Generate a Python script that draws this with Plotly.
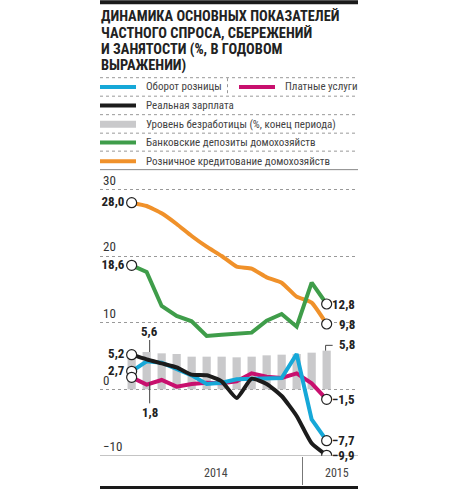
import plotly.graph_objects as go

months = ["01.2014", "02.2014", "03.2014", "04.2014", "05.2014", "06.2014", "07.2014",
          "08.2014", "09.2014", "10.2014", "11.2014", "12.2014", "01.2015", "02.2015"]
retail = [2.7, 4.2, 4.0, 3.0, 2.1, 0.8, 1.0, 1.5, 1.6, 1.7, 1.7, 5.3, -4.5, -7.7]
services = [1.8, 0.7, 1.4, 0.4, 0.8, 1.0, 0.9, 1.2, 2.4, 1.9, 1.7, 2.4, 0.9, -1.5]
wages = [5.2, 4.5, 3.9, 3.3, 2.2, 2.1, 1.2, -1.3, 1.6, 0.8, -1.0, -4.0, -8.1, -9.9]
unemployment = [5.6, 5.6, 5.4, 5.3, 4.9, 4.9, 4.9, 4.8, 4.9, 5.1, 5.2, 5.3, 5.5, 5.8]
deposits = [18.6, 17.6, 12.5, 11.0, 10.2, 8.0, 8.2, 8.3, 8.5, 10.3, 11.3, 9.4, 16.0, 12.8]
lending = [28.0, 27.5, 26.4, 24.8, 23.0, 21.4, 20.0, 18.4, 18.1, 16.8, 16.0, 13.9, 13.0, 9.8]
year_labels = ["2014", "2015"]
y_ticks = [-10, 0, 10, 20, 30]

title_lines = ["ДИНАМИКА ОСНОВНЫХ ПОКАЗАТЕЛЕЙ", "ЧАСТНОГО СПРОСА, СБЕРЕЖЕНИЙ",
               "И ЗАНЯТОСТИ (%, В ГОДОВОМ", "ВЫРАЖЕНИИ)"]

C_BLUE = "#16a8d8"
C_MAG = "#c8106e"
C_BLACK = "#1c1c1c"
C_GREY = "#c9c9cb"
C_GREEN = "#3f9d4a"
C_ORANGE = "#f0912a"
FONT = "Roboto Condensed, Roboto, sans-serif"

W, H = 460, 489
YR = [-10, 32.6]
L, R, B = 100, 358, 456
T = B - (YR[1] - YR[0]) * 6.67


def px(x):
    return (x - L) / (R - L)


def py(y):
    return (B - y) / (B - T)


def fmt(v):
    return ("%.1f" % v).replace(".", ",").replace("-", "−")


fig = go.Figure()
fig.add_trace(go.Bar(x=months, y=unemployment, marker_color=C_GREY, width=0.55,
                     marker_line_width=0, hoverinfo="skip"))
fig.add_trace(go.Scatter(x=months, y=lending, mode="lines",
                         line=dict(color=C_ORANGE, width=4, shape="spline", smoothing=0.4)))
fig.add_trace(go.Scatter(x=months, y=deposits, mode="lines",
                         line=dict(color=C_GREEN, width=4)))
fig.add_trace(go.Scatter(x=months, y=services, mode="lines",
                         line=dict(color=C_MAG, width=4)))
fig.add_trace(go.Scatter(x=months, y=retail, mode="lines",
                         line=dict(color=C_BLUE, width=4)))
fig.add_trace(go.Scatter(x=months, y=wages, mode="lines",
                         line=dict(color=C_BLACK, width=4, shape="spline", smoothing=0.5)))

lab_font = dict(family=FONT, size=13, color="#222")

# endpoint circles; left ones carry their value labels
left_series = (lending, deposits, wages, retail)
fig.add_trace(go.Scatter(
    x=[months[0]] * 4, y=[s[0] for s in left_series], mode="markers+text",
    text=["<b>" + fmt(s[0]) + "</b>" for s in left_series], textposition="middle left",
    textfont=lab_font,
    marker=dict(size=10, color="white", line=dict(color="#222", width=1.2))))
fig.add_trace(go.Scatter(
    x=[months[0], months[-1], months[-1], months[-1], months[-1], months[-1]],
    y=[services[0], lending[-1], deposits[-1], wages[-1], retail[-1], services[-1]],
    mode="markers",
    marker=dict(size=10, color="white", line=dict(color="#222", width=1.2))))

shapes = []
ann = []

# top & bottom thick rules
shapes.append(dict(type="line", xref="paper", yref="paper", x0=0, x1=1, y0=py(2), y1=py(2),
                   line=dict(color="#1a1a1a", width=4)))
shapes.append(dict(type="line", xref="paper", yref="paper", x0=0, x1=1, y0=py(487.5), y1=py(487.5),
                   line=dict(color="#1a1a1a", width=3)))

# title
for i, t in enumerate(title_lines):
    ann.append(dict(xref="paper", yref="paper", x=px(L - 1), y=py(16.5 + i * 16.3), xanchor="left",
                    yanchor="middle", text="<b>" + t + "</b>", showarrow=False,
                    font=dict(family=FONT, size=14.4, color="#222")))

# legend separators
for yy in (77.5, 96, 114.5, 133, 151):
    shapes.append(dict(type="line", xref="paper", yref="paper", x0=0, x1=1, y0=py(yy), y1=py(yy),
                       line=dict(color="#999", width=1, dash="dot")))
shapes.append(dict(type="line", xref="paper", yref="paper", x0=0, x1=1, y0=py(169.5), y1=py(169.5),
                   line=dict(color="#888", width=1)))
shapes.append(dict(type="line", xref="paper", yref="paper", x0=px(227.5), x1=px(227.5),
                   y0=py(78), y1=py(96), line=dict(color="#999", width=1, dash="dot")))

legend_items = [
    (100, 86.7, C_BLUE, "Оборот розницы", "line"),
    (239, 86.7, C_MAG, "Платные услуги", "line"),
    (100, 105.3, C_BLACK, "Реальная зарплата", "line"),
    (100, 124, C_GREY, "Уровень безработицы (%, конец периода)", "box"),
    (100, 142.3, C_GREEN, "Банковские депозиты домохозяйств", "line"),
    (100, 161, C_ORANGE, "Розничное кредитование домохозяйств", "line"),
]
for x0, yy, col, label, kind in legend_items:
    if kind == "line":
        shapes.append(dict(type="line", xref="paper", yref="paper", x0=px(x0), x1=px(x0 + 36),
                           y0=py(yy), y1=py(yy), line=dict(color=col, width=4)))
    else:
        shapes.append(dict(type="rect", xref="paper", yref="paper", x0=px(x0), x1=px(x0 + 36),
                           y0=py(yy - 3.5), y1=py(yy + 3.5), fillcolor=col, line=dict(width=0)))
    ann.append(dict(xref="paper", yref="paper", x=px(x0 + 44), y=py(yy), xanchor="left",
                    yanchor="middle", text=label, showarrow=False,
                    font=dict(family=FONT, size=11, color="#444")))

# bottom axis line
shapes.append(dict(type="line", xref="paper", yref="y", x0=0, x1=1, y0=-10, y1=-10,
                   line=dict(color="#888", width=1)))

# year labels & divider
shapes.append(dict(type="line", xref="paper", yref="paper", x0=px(302.5), x1=px(302.5),
                   y0=py(457), y1=py(485), line=dict(color="#777", width=1)))
ann.append(dict(xref="paper", yref="paper", x=px(216), y=py(473), xanchor="center",
                yanchor="middle", text=year_labels[0],
                showarrow=False, font=dict(family=FONT, size=12, color="#444")))
ann.append(dict(xref="paper", yref="paper", x=px(337), y=py(473), xanchor="center",
                yanchor="middle", text=year_labels[1],
                showarrow=False, font=dict(family=FONT, size=12, color="#444")))

# 1,8 below with leader
ann.append(dict(x=months[0], y=services[0], ax=0, ay=35, showarrow=True, arrowhead=0,
                arrowwidth=1, arrowcolor="#444", standoff=5,
                text="<b>" + fmt(services[0]) + "</b>", font=lab_font))
# 5,6 above bar with leader
ann.append(dict(x=months[0], y=unemployment[0], ax=0, ay=-21, showarrow=True, arrowhead=0,
                arrowwidth=1, arrowcolor="#444", standoff=0,
                text="<b>" + fmt(unemployment[0]) + "</b>", font=lab_font))

# right-side labels (right-aligned)
for s in (lending, deposits, wages, retail, services):
    ann.append(dict(xref="paper", yref="y", x=px(357), y=s[-1], xanchor="right",
                    yanchor="middle", text="<b>" + fmt(s[-1]) + "</b>", showarrow=False,
                    font=lab_font))
ann.append(dict(xref="paper", yref="y", x=px(357), y=unemployment[-1], xanchor="right",
                yanchor="middle", yshift=6, text="<b>" + fmt(unemployment[-1]) + "</b>",
                showarrow=False, font=lab_font))
n = len(months) - 1
shapes.append(dict(type="path", xref="x", yref="y",
                   path="M %f,%f L %f,%f L %f,%f" % (n - 0.07, unemployment[-1], n - 0.07,
                                                     unemployment[-1] + 0.8, n + 0.4,
                                                     unemployment[-1] + 0.8),
                   line=dict(color="#444", width=1)))

fig.update_layout(
    width=W, height=H, autosize=False,
    margin=dict(l=L, r=W - R, t=T, b=H - B, pad=0),
    paper_bgcolor="white", plot_bgcolor="white",
    showlegend=False,
    xaxis=dict(type="category", range=[-2.11, 15.09], showgrid=False, showticklabels=False,
               zeroline=False, showline=False, ticks=""),
    yaxis=dict(range=YR, tickvals=y_ticks, ticktext=[str(v).replace("-", "−") for v in y_ticks],
               showgrid=True, gridcolor="#999", gridwidth=1, griddash="dot",
               showticklabels=True, ticklabelposition="inside top", ticklabelstandoff=0,
               tickfont=dict(family=FONT, size=13, color="#333"),
               zeroline=False, showline=False, ticks=""),
    shapes=shapes, annotations=ann,
    bargap=0.45,
)
fig.write_html("out.html", config={"displayModeBar": False},
               post_script="document.body.style.margin='0';")
